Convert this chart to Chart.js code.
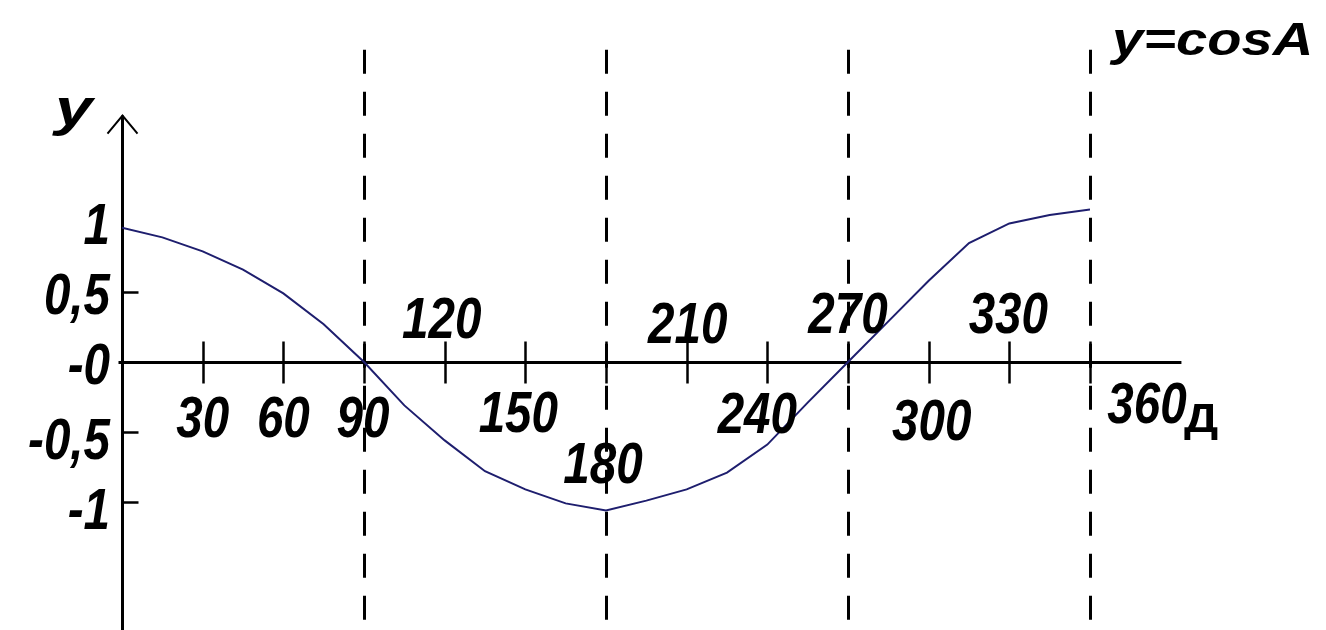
<!DOCTYPE html>
<html>
<head>
<meta charset="utf-8">
<title>y=cosA</title>
<script src="https://cdn.jsdelivr.net/npm/chart.js@4.4.1/dist/chart.umd.min.js"></script>
<style>
  html, body { margin: 0; padding: 0; background: #fff; }
  #wrap { width: 1326px; height: 630px; position: relative; }
</style>
</head>
<body>
<div id="wrap"><canvas id="grafico"></canvas></div>
<script>
// datos: angulo en grados y valor de y
const angulos = [0, 15, 30, 45, 60, 75, 90, 105, 120, 135, 150, 165, 180,
                 195, 210, 225, 240, 255, 270, 285, 300, 315, 330, 345, 360];
const valoresCos = [0.96, 0.89, 0.79, 0.66, 0.49, 0.27, 0, -0.31, -0.56, -0.78, -0.91, -1.01, -1.06,
                    -0.99, -0.91, -0.79, -0.59, -0.29, 0, 0.29, 0.58, 0.85, 0.99, 1.05, 1.09];

const ticksX = [30, 60, 90, 120, 150, 180, 210, 240, 270, 300, 330, 360];
const etiquetasX = ['30', '60', '90', '120', '150', '180', '210', '240', '270', '300', '330', '360'];
const ticksY = [1, 0.5, 0, -0.5, -1];
const etiquetasY = ['1', '0,5', '-0', '-0,5', '-1'];
const lineasGuia = [90, 180, 270, 360];

const titulo = 'y=cosA';
const nombreEjeY = 'y';
const nombreEjeX = 'Д';

// donde cae cada numero del eje x respecto a su marca (dx, dy de la base)
const posEtiquetasX = [[0, 75], [0, 75], [-1, 75], [-3, -24], [-7, 70], [-3, 121],
                       [1, -19], [-10, 71], [0, -29], [3, 78], [-1, -29], [57, 61]];

const fuente = 'italic bold 58px "Liberation Sans"';

function texto(ctx, str, x, y, font, sx, align) {
    ctx.save();
    ctx.font = font;
    ctx.fillStyle = '#000';
    ctx.textAlign = align || 'center';
    ctx.textBaseline = 'alphabetic';
    ctx.translate(x, y);
    ctx.scale(sx, 1);
    ctx.fillText(str, 0, 0);
    ctx.restore();
}

// ejes, marcas y lineas punteadas
const ejes = {
    id: 'ejes',
    beforeDatasetsDraw(chart) {
        const ctx = chart.ctx;
        const sx = chart.scales.x, sy = chart.scales.y;
        const x0 = Math.round(sx.getPixelForValue(0)) + 0.5;
        const y0 = Math.round(sy.getPixelForValue(0)) + 0.5;
        ctx.save();
        ctx.strokeStyle = '#000';

        ctx.lineWidth = 3;
        ctx.setLineDash([24, 18]);
        lineasGuia.forEach(v => {
            const px = Math.round(sx.getPixelForValue(v)) + 0.5;
            ctx.beginPath();
            ctx.moveTo(px, sy.getPixelForValue(2.23));
            ctx.lineTo(px, chart.height);
            ctx.stroke();
        });
        ctx.setLineDash([]);

        // eje x
        ctx.beginPath();
        ctx.moveTo(x0 - 4, y0);
        ctx.lineTo(sx.getPixelForValue(394), y0);
        ctx.stroke();

        // eje y con flecha
        const yTop = sy.getPixelForValue(1.76);
        ctx.beginPath();
        ctx.moveTo(x0, yTop);
        ctx.lineTo(x0, chart.height);
        ctx.stroke();
        ctx.lineWidth = 2;
        ctx.beginPath();
        ctx.moveTo(x0 - 15, yTop + 18);
        ctx.lineTo(x0, yTop);
        ctx.lineTo(x0 + 15, yTop + 18);
        ctx.stroke();

        ctx.lineWidth = 2.5;
        ticksX.forEach(v => {
            const px = Math.round(sx.getPixelForValue(v)) + 0.5;
            ctx.beginPath();
            ctx.moveTo(px, y0 - 21);
            ctx.lineTo(px, y0 + 21);
            ctx.stroke();
        });
        // en el original no se ve marca en el 1 (la tapa la curva)
        ticksY.forEach(v => {
            if (v === 0 || v === 1) return;
            const py = Math.round(sy.getPixelForValue(v)) + 0.5;
            ctx.beginPath();
            ctx.moveTo(x0, py);
            ctx.lineTo(x0 + 16, py);
            ctx.stroke();
        });
        ctx.restore();
    },
    afterDraw(chart) {
        const ctx = chart.ctx;
        const sx = chart.scales.x, sy = chart.scales.y;
        const x0 = sx.getPixelForValue(0), y0 = sy.getPixelForValue(0);

        ticksX.forEach((v, i) => {
            const p = posEtiquetasX[i];
            texto(ctx, etiquetasX[i], sx.getPixelForValue(v) + p[0], y0 + p[1], fuente, 0.82);
        });
        ticksY.forEach((v, i) => {
            const extra = v < 0 ? 5 : 0;
            texto(ctx, etiquetasY[i], x0 - 12, sy.getPixelForValue(v) + 22 + extra, fuente, 0.82, 'right');
        });

        texto(ctx, nombreEjeY, 55, 125, 'italic bold 52px "Liberation Sans"', 1.3, 'left');
        texto(ctx, nombreEjeX, 1201, 432, 'bold 40px "Liberation Sans"', 1.2);
        texto(ctx, titulo, 1112, 55, 'italic bold 46px "Liberation Sans"', 1.22, 'left');
    }
};

const puntos = angulos.map((a, i) => ({ x: a, y: valoresCos[i] }));

new Chart(document.getElementById('grafico'), {
    type: 'scatter',
    data: {
        datasets: [{
            data: puntos,
            showLine: true,
            borderColor: '#1e1e6e',
            borderWidth: 2,
            pointRadius: 0,
            tension: 0
        }]
    },
    options: {
        responsive: true,
        maintainAspectRatio: false,
        devicePixelRatio: 1,
        animation: false,
        layout: { padding: { left: 122, right: 236, top: 82, bottom: 16 } },
        plugins: { legend: { display: false }, tooltip: { enabled: false } },
        scales: {
            x: { type: 'linear', display: false, min: 0, max: 360 },
            y: { type: 'linear', display: false, min: -1.8, max: 2 }
        }
    },
    plugins: [ejes]
});
</script>
</body>
</html>
